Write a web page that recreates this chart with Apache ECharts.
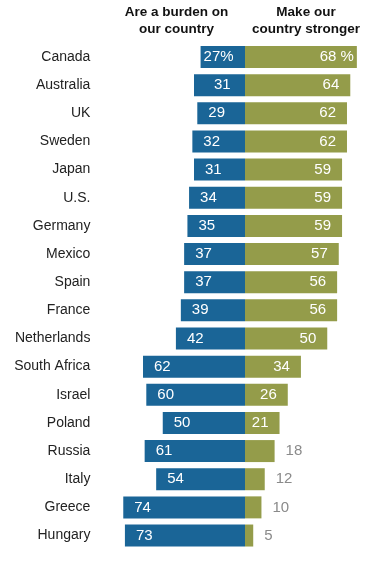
<!DOCTYPE html>
<html>
<head>
<meta charset="utf-8">
<script src="https://cdn.jsdelivr.net/npm/echarts@6/dist/echarts.min.js"></script>
<style>
html,body{margin:0;padding:0;background:#fff;}
#chart{width:380px;height:570px;}
</style>
</head>
<body>
<div id="chart"></div>
<script>
const categories = ['Canada','Australia','UK','Sweden','Japan','U.S.','Germany','Mexico','Spain','France','Netherlands','South Africa','Israel','Poland','Russia','Italy','Greece','Hungary'];
const burden = [27,31,29,32,31,34,35,37,37,39,42,62,60,50,61,54,74,73];
const stronger = [68,64,62,62,59,59,59,57,56,56,50,34,26,21,18,12,10,5];
const headerBurden = 'Are a burden on\nour country';
const headerStronger = 'Make our\ncountry stronger';

const FONT = '"Liberation Sans", Arial, sans-serif';
const BLUE = '#1a6597';
const GREEN = '#949c4a';

const burdenData = burden.map((v, i) => {
  const d = { value: -v };
  if (i === 0) d.label = { distance: 3 };
  if (i === 1) d.label = { distance: 20 };
  return d;
});
const strongerData = stronger.map((v, i) => {
  const d = { value: v };
  if (i === 0) d.label = { distance: 3 };
  if (v < 20) d.label = { position: 'right', color: '#8a8a8a', distance: 11 };
  return d;
});

const chart = echarts.init(document.getElementById('chart'), null, { renderer: 'canvas' });
chart.setOption({
  animation: false,
  backgroundColor: '#fff',
  textStyle: { fontFamily: FONT },
  grid: { left: 113.4, top: 42.9, width: 246.75, height: 506.7, containLabel: false },
  xAxis: { type: 'value', min: -80, max: 70, show: false },
  yAxis: {
    type: 'category', data: categories, inverse: true,
    axisLine: { show: false }, axisTick: { show: false }, splitLine: { show: false },
    axisLabel: { margin: 23, fontSize: 14, color: '#222', fontFamily: FONT }
  },
  graphic: [
    { type: 'text', x: 176.5, y: 4, style: { text: headerBurden, textAlign: 'center', font: 'bold 13.5px ' + FONT, fill: '#111', lineHeight: 17 } },
    { type: 'text', x: 306, y: 4, style: { text: headerStronger, textAlign: 'center', font: 'bold 13.5px ' + FONT, fill: '#111', lineHeight: 17 } }
  ],
  series: [
    {
      name: 'burden', type: 'bar', data: burdenData, barWidth: 22, barGap: '-100%',
      itemStyle: { color: BLUE },
      label: { show: true, position: 'insideLeft', distance: 11, color: '#fff', fontSize: 15, fontFamily: FONT,
        formatter: p => Math.abs(p.value) + (p.dataIndex === 0 ? '%' : '') }
    },
    {
      name: 'stronger', type: 'bar', data: strongerData, barWidth: 22, barGap: '-100%',
      itemStyle: { color: GREEN },
      label: { show: true, position: 'insideRight', distance: 11, color: '#fff', fontSize: 15, fontFamily: FONT,
        formatter: p => p.value + (p.dataIndex === 0 ? ' %' : '') }
    }
  ]
});
</script>
</body>
</html>
